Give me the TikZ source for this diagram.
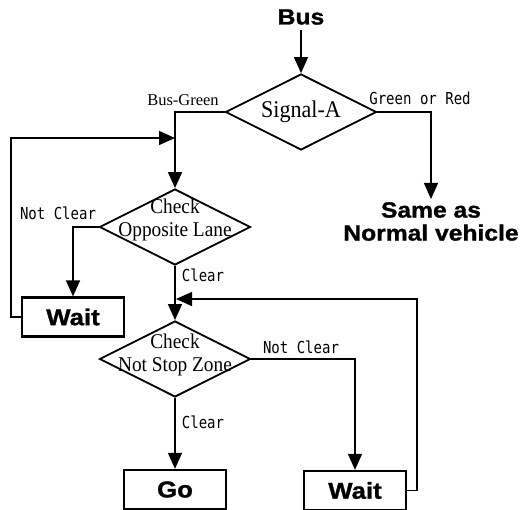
\documentclass[tikz,border=0pt]{standalone}
\usepackage{fontspec}
\setmainfont{Liberation Serif}
\newfontfamily\condfont[FakeStretch=0.92]{Liberation Serif}
\newfontfamily\lblfont[FakeStretch=0.85]{DejaVu Sans Mono}
\newfontfamily\heavyfont[FakeStretch=1.12,FakeBold=1.2]{Liberation Sans Bold}
\usetikzlibrary{arrows.meta,shapes.geometric}

\begin{document}
\begin{tikzpicture}[x=1pt,y=-1pt,
  dec/.style={draw,diamond,line width=1.8pt,inner sep=0pt,minimum width=151pt,minimum height=76pt},
  dectxt/.style={align=center,inner sep=0pt,font=\condfont\fontsize{21}{22.5}\selectfont},
  box/.style={draw,line width=2.3pt,inner sep=0pt,minimum width=102pt,minimum height=39pt,font=\heavyfont\fontsize{23}{26}\selectfont},
  heavy/.style={inner sep=2pt,align=center,font=\heavyfont\fontsize{22}{23}\selectfont},
  lbl/.style={inner sep=0pt,font=\lblfont\fontsize{16.5}{18}\selectfont},
  arr/.style={line width=1.4pt,-{Triangle[length=16pt,width=14pt]}}]
\useasboundingbox (0,0) rectangle (529,510);

\node[heavy] (bus) at (301,17) {Bus};
\node[dec] (sigA) at (301,112) {};
\node[inner sep=0pt,font=\condfont\fontsize{24}{26}\selectfont] (sigAtxt) at (sigA) {Signal-A};
\node[heavy,anchor=north,inner sep=3pt] (same) at (431,199) {Same as\\Normal vehicle};

\node[dec] (opp) at (175,227) {};
\node[dectxt] (opptxt) at ([yshift=7pt]opp.center) {Check\\Opposite Lane};
\node[box] (wait1) at (73,317) {Wait};

\node[dec] (nsz) at (175,359) {};
\node[dectxt] (nsztxt) at ([yshift=4pt]nsz.center) {Check\\Not Stop Zone};
\node[box] (go) at (175,489.5) {Go};
\node[box] (wait2) at (355,490.5) {Wait};

\coordinate (j1) at (175,138);
\coordinate (j2) at (176,299);

\node[inner sep=0pt,font=\fontsize{16.5}{18}\selectfont] (lgreen) at (183,100) {Bus-Green};
\node[lbl] (lred) at (420,98) {Green or Red};
\node[lbl] (lnot1) at (58,213) {Not Clear};
\node[lbl] (lclr1) at (203,275) {Clear};
\node[lbl] (lnot2) at (301,347) {Not Clear};
\node[lbl] (lclr2) at (203,422) {Clear};

\draw[arr,shorten <=3pt] (bus) -- (sigA);
\draw[arr] (sigA.west) -| (opp.north);
\draw[arr] (sigA.east) -| (same.north);
\draw[arr] (opp.west) -| (wait1.north);
\draw[arr] (opp.south) -- (nsz.north);
\draw[arr] (wait1.west) -- ++(-10,0) |- (j1);
\draw[arr] (nsz.east) -| (wait2.north);
\draw[arr] (nsz.south) -- (go.north);
\draw[arr] (wait2.east) -- ++(10,0) |- (j2);

\end{tikzpicture}
\end{document}
